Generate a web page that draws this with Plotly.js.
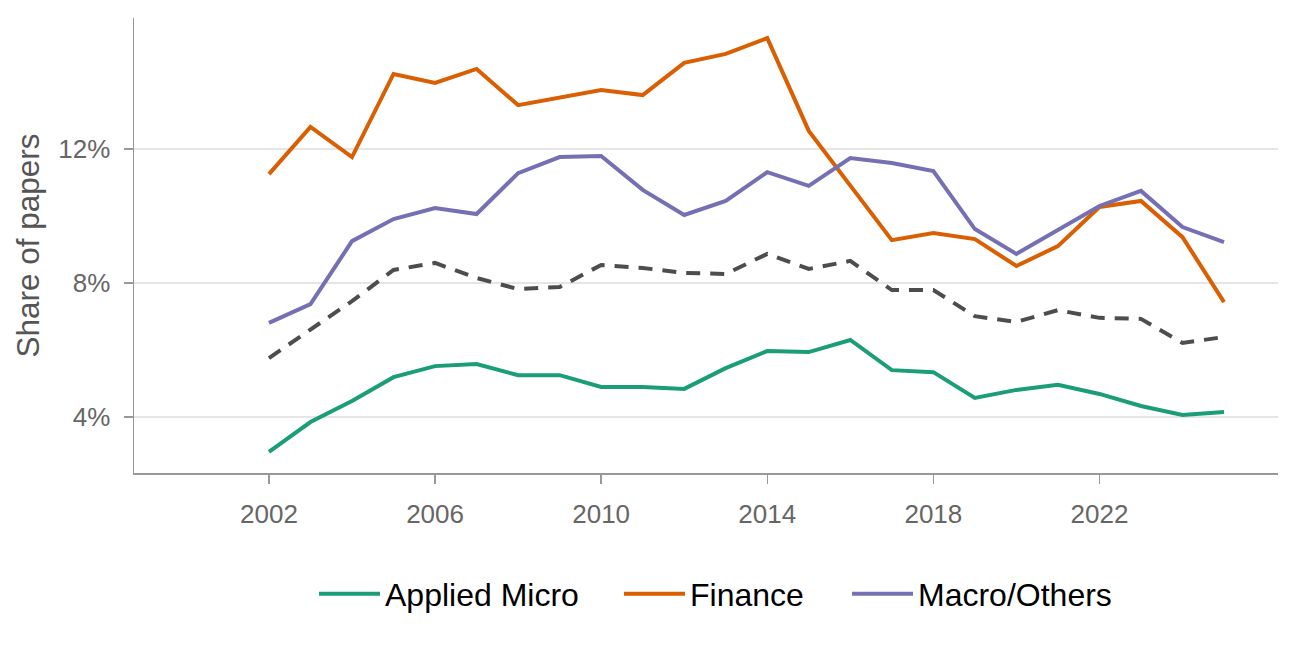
<!DOCTYPE html>
<html>
<head>
<meta charset="utf-8">
<script src="https://cdn.plot.ly/plotly-3.0.1.min.js"></script>
<style>html,body{margin:0;padding:0;background:#fff;}#chart{width:1296px;height:648px;}</style>
</head>
<body>
<div id="chart"></div>
<script>
const years = [2002,2003,2004,2005,2006,2007,2008,2009,2010,2011,2012,2013,2014,2015,2016,2017,2018,2019,2020,2021,2022,2023,2024,2025];
const appliedMicro = [2.96,3.85,4.48,5.19,5.52,5.58,5.25,5.25,4.90,4.90,4.84,5.46,5.97,5.94,6.30,5.40,5.34,4.57,4.81,4.96,4.69,4.33,4.06,4.15];
const finance = [11.25,12.66,11.76,14.24,13.97,14.39,13.31,13.52,13.76,13.61,14.57,14.84,15.31,12.54,10.93,9.28,9.49,9.31,8.51,9.10,10.27,10.45,9.37,7.43];
const macroOthers = [6.81,7.37,9.25,9.91,10.24,10.06,11.28,11.76,11.79,10.78,10.03,10.45,11.31,10.90,11.73,11.58,11.34,9.61,8.87,9.58,10.30,10.75,9.67,9.22];
const overall = [5.76,6.60,7.46,8.39,8.60,8.15,7.82,7.88,8.54,8.45,8.30,8.27,8.87,8.42,8.66,7.79,7.79,7.01,6.84,7.19,6.96,6.93,6.21,6.39];
const xTicks = [2002,2006,2010,2014,2018,2022];
const yTicks = [4,8,12];

const traces = [
  {x: years, y: overall, mode: 'lines', name: 'Overall', showlegend: false,
   line: {color: '#4d4d4d', width: 4, dash: '14px,10px'}},
  {x: years, y: appliedMicro, mode: 'lines', name: 'Applied Micro', legend: 'legend', line: {color: '#1b9e77', width: 4}},
  {x: years, y: finance, mode: 'lines', name: 'Finance', legend: 'legend2', line: {color: '#d95f02', width: 4}},
  {x: years, y: macroOthers, mode: 'lines', name: 'Macro/Others', legend: 'legend3', line: {color: '#7570b3', width: 4}}
];

const plotL = 134, plotW = 1144;
function legendAt(px) {
  return {orientation: 'h', x: (px - plotL) / plotW, xanchor: 'left', y: -0.266, yanchor: 'middle',
          font: {size: 32, color: '#000000'}, itemwidth: 61, bgcolor: 'rgba(0,0,0,0)'};
}

const layout = {
  width: 1296, height: 648,
  margin: {l: 134, r: 18, t: 18, b: 175},
  paper_bgcolor: '#ffffff', plot_bgcolor: '#ffffff',
  font: {family: 'Liberation Sans, Arial, sans-serif', color: '#666666'},
  showlegend: true,
  legend: legendAt(314),
  legend2: legendAt(619),
  legend3: legendAt(847),
  xaxis: {range: [1998.75, 2026.3], tickvals: xTicks, ticktext: xTicks.map(String),
          showgrid: false, zeroline: false, showline: true, linecolor: '#999999', linewidth: 1.5,
          ticks: 'outside', ticklen: 9, tickcolor: '#999999', tickwidth: 1.5,
          tickfont: {size: 26, color: '#666666'}, ticklabelstandoff: 8},
  yaxis: {range: [2.33, 15.91], tickvals: yTicks, ticktext: yTicks.map(v => v + '%'),
          showgrid: true, gridcolor: '#e5e5e5', gridwidth: 1.5, zeroline: false,
          showline: true, linecolor: '#999999', linewidth: 1.5,
          ticks: 'outside', ticklen: 9, tickcolor: '#999999', tickwidth: 1.5,
          tickfont: {size: 26, color: '#666666'}, ticklabelstandoff: 8,
          title: {text: 'Share of papers', font: {size: 31.5, color: '#555555'}, standoff: 9}}
};

Plotly.newPlot('chart', traces, layout, {displayModeBar: false, staticPlot: true});
</script>
</body>
</html>
